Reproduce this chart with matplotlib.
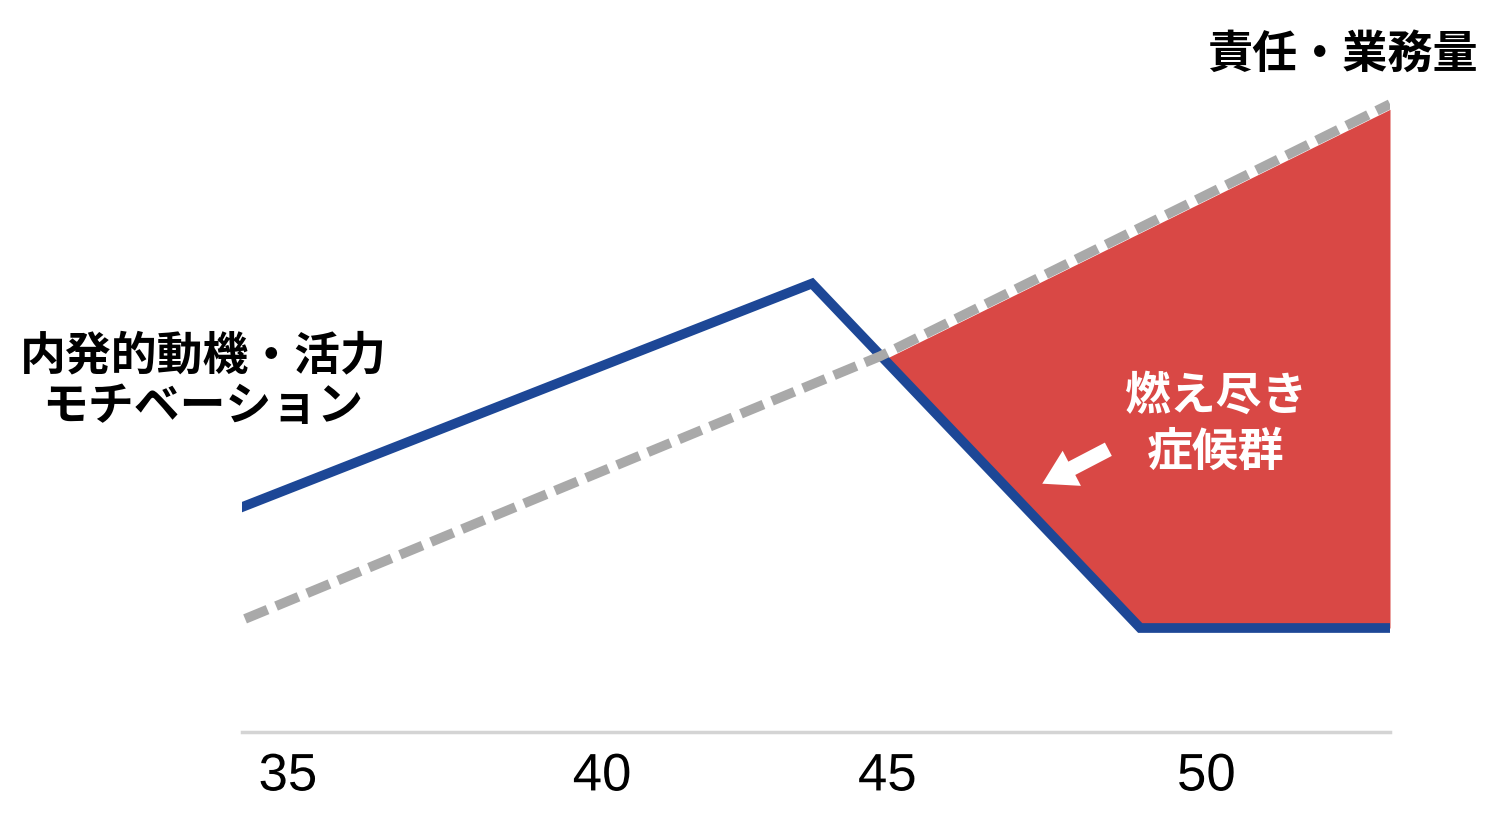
import numpy as np
import matplotlib.pyplot as plt
import matplotlib.patheffects as pe

plt.rcParams['font.family'] = ['Noto Sans CJK JP', 'DejaVu Sans']

# data (age on x, arbitrary level 0-100 on y)
motivation_age = [34.25, 43.56, 48.92, 53.0]
motivation_val = [34.6, 69.0, 16.0, 16.0]

workload_age = [34.3, 44.67, 53.0]
workload_val = [17.4, 57.8, 96.6]

tick_pos = [35, 40.13, 44.79, 50]
tick_labels = ["35", "40", "45", "50"]

blue = "#1d4796"
red = "#d94845"
gray = "#a9a9a9"

fig = plt.figure(figsize=(14.96, 8.28), dpi=100)
ax = fig.add_axes([242 / 1496, 95 / 828, 1148 / 1496, 650 / 828])

# burnout area between workload and motivation
xs = np.linspace(motivation_age[0], motivation_age[-1], 800)
blue_y = np.interp(xs, motivation_age, motivation_val)
gray_y = np.interp(xs, workload_age, workload_val) - 0.8
ax.fill_between(xs, blue_y, gray_y, where=gray_y >= blue_y, interpolate=True,
                color=red, lw=0, zorder=1)

ax.plot(workload_age, workload_val, color=gray, lw=7, dashes=(2.5, 0.95),
        solid_capstyle="butt", zorder=3)
ax.plot(motivation_age, motivation_val, color=blue, lw=7,
        solid_joinstyle="miter", zorder=2)

ax.text(50.15, 47.4, "燃え尽き\n症候群", color="white", fontsize=33,
        fontweight="bold", ha="center", va="center", linespacing=1.3, zorder=4)
ax.annotate("", xy=(47.32, 38.2), xytext=(48.4, 43.5),
            arrowprops=dict(arrowstyle="simple,head_width=0.95,head_length=0.8,tail_width=0.36",
                            color="white", lw=0, mutation_scale=30,
                            shrinkA=0, shrinkB=0),
            zorder=4)

ax.set_xlim(34.25, 53.0)
ax.set_ylim(0, 100)
ax.set_xticks(tick_pos)
ax.set_xticklabels(tick_labels, family="Liberation Sans", fontsize=38)
for lab in ax.get_xticklabels():
    lab.set_path_effects([pe.withStroke(linewidth=4, foreground="white")])
ax.tick_params(axis="x", length=0, pad=14)
ax.set_yticks([])
for s in ["top", "right", "left"]:
    ax.spines[s].set_visible(False)
ax.spines["bottom"].set_color("#d4d4d4")
ax.spines["bottom"].set_linewidth(2.5)

fig.text(1342 / 1496, 1 - 55 / 828, "責任・業務量", fontsize=32.5, fontweight="bold",
         ha="center", va="center")
fig.text(203 / 1496, 1 - 382 / 828, "内発的動機・活力\nモチベーション", fontsize=33,
         fontweight="bold", ha="center", va="center", linespacing=1.12)

fig.savefig("out.png", dpi=100)
